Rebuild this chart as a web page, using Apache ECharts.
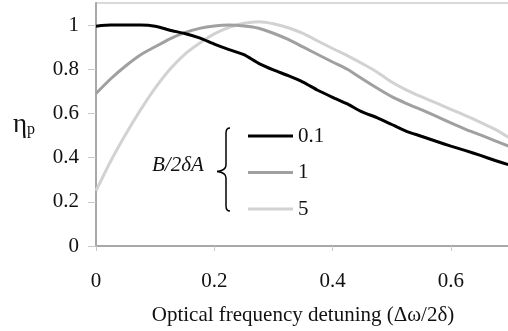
<!DOCTYPE html>
<html>
<head>
<meta charset="utf-8">
<script src="https://cdn.jsdelivr.net/npm/echarts@6/dist/echarts.min.js"></script>
<style>html,body{margin:0;padding:0;background:#fff}#c{width:508px;height:331px}</style>
</head>
<body>
<div id="c"></div>
<script>
var detuning = [0,0.025,0.05,0.075,0.1,0.125,0.15,0.175,0.2,0.225,0.25,0.275,0.3,0.325,0.35,0.375,0.4,0.425,0.45,0.475,0.5,0.525,0.55,0.575,0.6,0.625,0.65,0.675,0.7];
var eta01 = [0.995,1.0,1.0,1.0,0.995,0.977,0.962,0.942,0.914,0.889,0.866,0.827,0.797,0.771,0.742,0.705,0.673,0.643,0.607,0.581,0.55,0.519,0.497,0.474,0.452,0.432,0.41,0.387,0.366];
var eta1 = [0.69,0.757,0.815,0.865,0.902,0.938,0.966,0.985,0.996,1.0,0.996,0.986,0.963,0.935,0.901,0.867,0.833,0.8,0.757,0.715,0.676,0.645,0.617,0.588,0.557,0.528,0.503,0.476,0.45];
var eta5 = [0.25,0.385,0.505,0.615,0.715,0.8,0.868,0.918,0.96,0.99,1.008,1.015,1.006,0.988,0.962,0.928,0.894,0.862,0.826,0.788,0.742,0.706,0.676,0.648,0.619,0.59,0.56,0.528,0.488];
var seriesNames = ['0.1','1','5'];
var xTicks = [0,0.2,0.4,0.6];
var yTicks = [0,0.2,0.4,0.6,0.8,1];

function pairs(ys){ return detuning.map(function(x,i){ return [x, ys[i]]; }); }
var font = 'Liberation Serif';
var colors = ['#000000','#a0a0a0','#d2d2d2'];
var allData = [eta01, eta1, eta5];
var braceStyle = {fill: 'none', stroke: '#000', lineWidth: 1.5};

var chart = echarts.init(document.getElementById('c'));
chart.setOption({
  animation: false,
  backgroundColor: '#fff',
  grid: {left: 96, right: -2, top: 3, bottom: 85, show: true, borderColor: '#b4b4b4', borderWidth: 1,
         containLabel: false, outerBoundsMode: 'none'},
  xAxis: {
    type: 'value', min: 0, max: 0.7,
    name: 'Optical frequency detuning (Δω/2δ)', nameLocation: 'middle', nameGap: 59, nameMoveOverlap: false,
    nameTextStyle: {fontFamily: font, fontSize: 21, color: '#111'},
    axisLine: {show: true, lineStyle: {color: '#a8a8a8', width: 2}},
    axisTick: {show: true, length: 5, lineStyle: {color: '#c8c8c8'}, customValues: xTicks},
    axisLabel: {fontFamily: font, fontSize: 21, color: '#111', margin: 25, customValues: xTicks,
      formatter: function(v){ return String(Math.round(v*10)/10); }},
    splitLine: {show: false}
  },
  yAxis: {
    type: 'value', min: 0, max: 1.1,
    name: '{a|η}{b|p}', nameLocation: 'middle', nameRotate: 0, nameGap: 39, nameMoveOverlap: false,
    nameTextStyle: {
      backgroundColor: '#fff', padding: [4, 22, 4, 6], align: 'right',
      rich: {
        a: {fontFamily: font, fontSize: 27, color: '#111', lineHeight: 26},
        b: {fontFamily: font, fontSize: 16, color: '#111', lineHeight: 26, padding: [10,0,0,0]}
      }
    },
    axisLine: {show: true, lineStyle: {color: '#a8a8a8', width: 2}},
    axisTick: {show: true, length: 8, lineStyle: {color: '#c8c8c8'}, customValues: yTicks},
    axisLabel: {fontFamily: font, fontSize: 21, color: '#111', margin: 17, customValues: yTicks,
      formatter: function(v){ return String(Math.round(v*10)/10); }},
    splitLine: {show: false}
  },
  legend: {
    orient: 'vertical', left: 248, top: 125, padding: 0, icon: 'rect', itemWidth: 45, itemHeight: 3, itemGap: 14.5,
    data: seriesNames,
    textStyle: {fontFamily: font, fontSize: 21, color: '#111', lineHeight: 22}
  },
  graphic: [
    {type: 'bezierCurve', shape: {x1: 230, y1: 128, x2: 226, y2: 133, cpx1: 226, cpy1: 128}, style: braceStyle},
    {type: 'line', shape: {x1: 226, y1: 133, x2: 226, y2: 165}, style: braceStyle},
    {type: 'bezierCurve', shape: {x1: 226, y1: 165, x2: 217, y2: 171.5, cpx1: 226, cpy1: 170.5}, style: braceStyle},
    {type: 'bezierCurve', shape: {x1: 217, y1: 171.5, x2: 226, y2: 178, cpx1: 226, cpy1: 172.5}, style: braceStyle},
    {type: 'line', shape: {x1: 226, y1: 178, x2: 226, y2: 206}, style: braceStyle},
    {type: 'bezierCurve', shape: {x1: 226, y1: 206, x2: 230, y2: 211, cpx1: 226, cpy1: 211}, style: braceStyle},
    {type: 'text', left: 152, top: 155, style: {text: 'B/2δA', fontFamily: font, fontStyle: 'italic', fontSize: 21, fill: '#111'}}
  ],
  series: seriesNames.map(function(n, i){
    return {
      name: n, type: 'line', data: pairs(allData[i]), showSymbol: false, symbol: 'none', smooth: 0.2,
      lineStyle: {color: colors[i], width: 3}, itemStyle: {color: colors[i]}, z: 3 - i
    };
  })
});
</script>
</body>
</html>
